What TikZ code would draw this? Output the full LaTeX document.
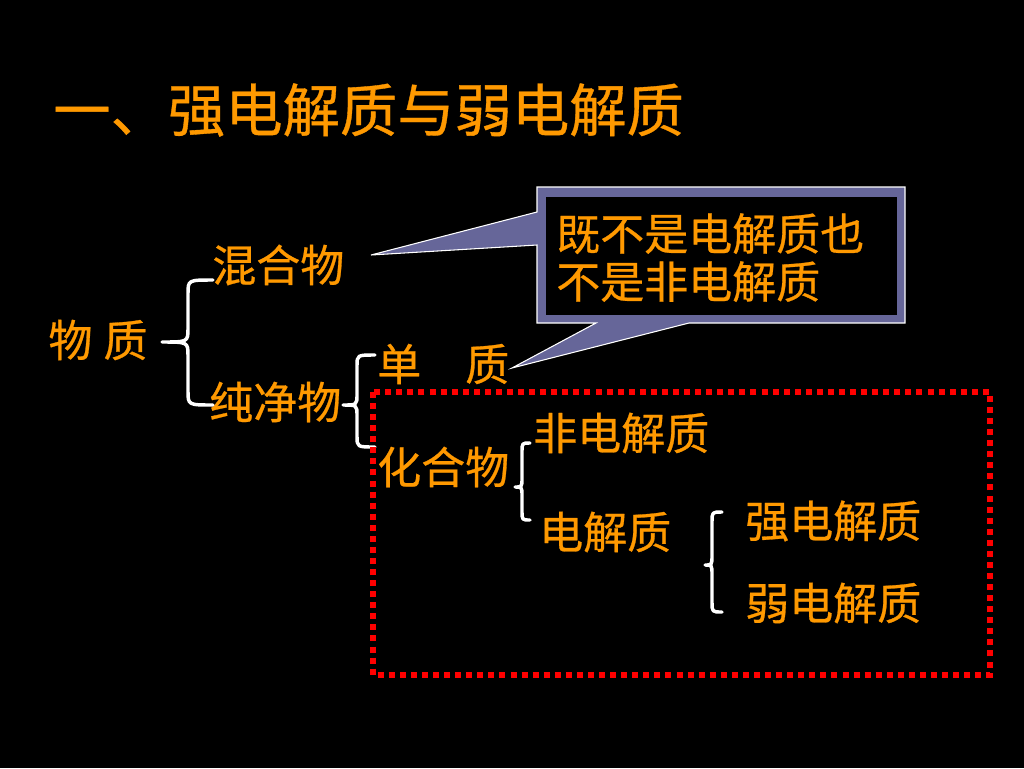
\documentclass[tikz,border=0pt]{standalone}
\usepackage{fontspec}
\newfontfamily\cjk[FakeBold=0.6]{Noto Sans CJK SC}
\definecolor{txtorange}{RGB}{255,153,0}
\definecolor{calloutfill}{RGB}{102,102,153}
\definecolor{dotred}{RGB}{255,0,0}
\begin{document}
\begin{tikzpicture}[x=0.75pt,y=-0.75pt,
  lbl/.style={text=txtorange,font=\cjk\fontsize{33}{38}\selectfont,inner sep=0pt},
  ttl/.style={text=txtorange,font=\cjk\fontsize{43}{48}\selectfont,inner sep=0pt},
  bracestyle/.style={draw=white,line width=2.6pt,line cap=round,line join=round}]
\fill[black] (0,0) rectangle (1024,768);
\useasboundingbox (0,0) rectangle (1024,768);

% title
\node[ttl,anchor=west] (title) at (53,110) {一、强电解质与弱电解质};

% labels
\node[lbl] (wuzhi) at (98,340) {物\hspace{0.25em}质};
\node[lbl,anchor=west] (hunhe) at (212,265) {混合物};
\node[lbl,anchor=west] (chunjing) at (209,402) {纯净物};
\node[lbl,anchor=west] (danzhi) at (377,364) {单　质};
\node[lbl,anchor=west] (huahe) at (377,467) {化合物};
\node[lbl,anchor=west] (feidian) at (533,433) {非电解质};
\node[lbl,anchor=west] (dianjie) at (539,532) {电解质};
\node[lbl,anchor=west] (qiang) at (745,521) {强电解质};
\node[lbl,anchor=west] (ruo) at (745,603) {弱电解质};

% braces
\draw[bracestyle] (213,280) .. controls (188,280) .. (188,294) -- (188,328)
  .. controls (188,342) .. (162,342) .. controls (188,342) .. (188,356)
  -- (188,391) .. controls (188,405) .. (213,405);
\draw[bracestyle] (375,355) .. controls (357,355) .. (357,366) -- (357,394)
  .. controls (357,405) .. (343,405) .. controls (357,405) .. (357,416)
  -- (357,436) .. controls (357,447) .. (375,447);
\draw[bracestyle] (530,443) .. controls (522,443) .. (522,452) -- (522,478)
  .. controls (522,487) .. (515,487) .. controls (522,487) .. (522,496)
  -- (522,511) .. controls (522,520) .. (530,520);
\draw[bracestyle] (722,512) .. controls (712,512) .. (712,522) -- (712,555)
  .. controls (712,565) .. (705,565) .. controls (712,565) .. (712,575)
  -- (712,602) .. controls (712,612) .. (722,612);

% red dotted frame
\draw[dotred,line width=4pt,dash pattern=on 4.5pt off 3.8pt] (373,392) rectangle (990,675);

% callout
\draw[white,line width=0.8pt,fill=calloutfill]
  (537,187) -- (905,187) -- (905,323) -- (689,323) -- (512,368) -- (596,323)
  -- (537,323) -- (537,245) -- (371,255) -- (537,212) -- cycle;
\fill[black] (546,197) rectangle (897,315);
\node[lbl,anchor=north west,align=left,font=\cjk\fontsize{33}{36}\selectfont] (callout) at (556,213)
  {既不是电解质也\\不是非电解质};
\end{tikzpicture}
\end{document}
